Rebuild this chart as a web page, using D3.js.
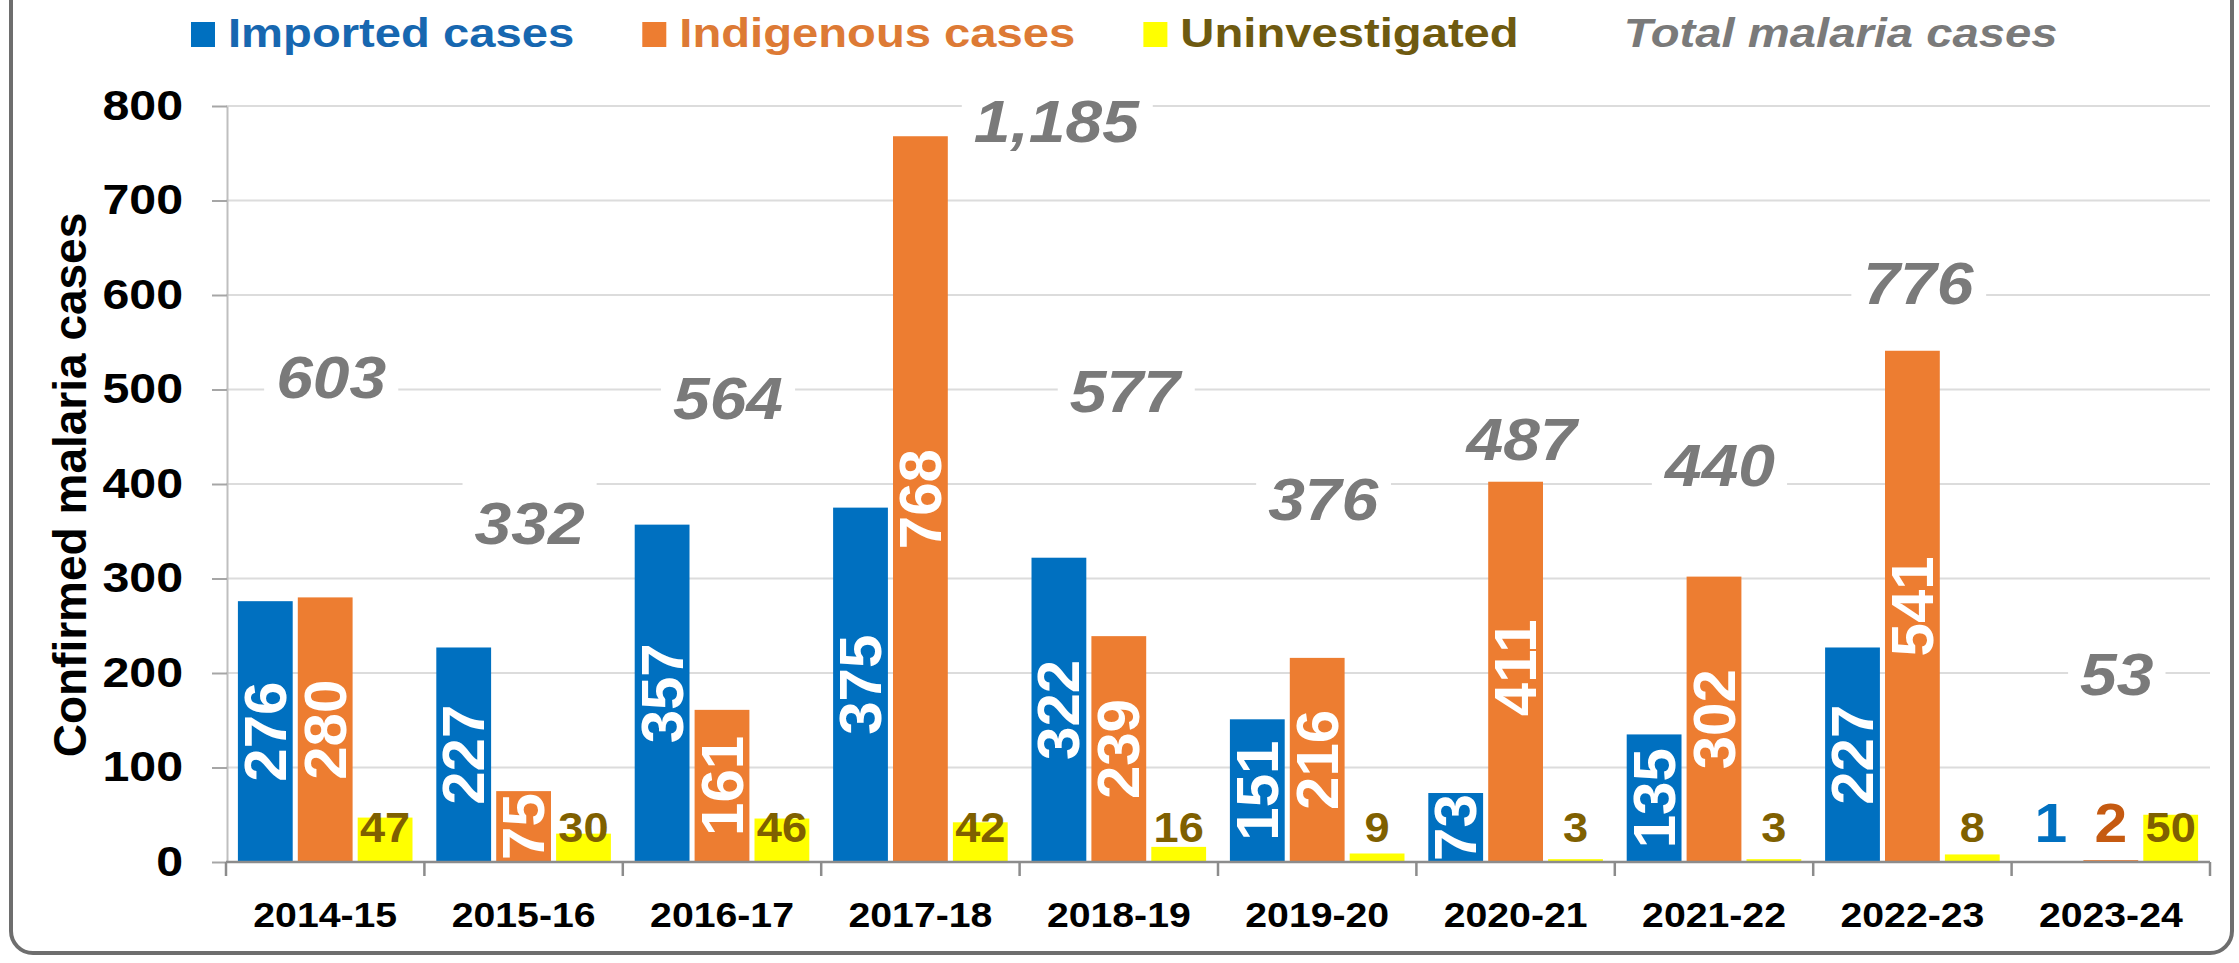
<!doctype html>
<html>
<head>
    <meta charset="UTF-8">
    <title>Confirmed malaria cases</title>
    <script src="https://cdn.jsdelivr.net/npm/d3@7"></script>
    <style>
        body { margin: 0; background: #fff; }
        svg text { font-family: "Liberation Sans", Arial, sans-serif; font-weight: bold; }
    </style>
</head>
<body>
<svg id="chart" width="2239" height="963"></svg>
<script>
    var years = ['2014-15', '2015-16', '2016-17', '2017-18', '2018-19', '2019-20', '2020-21', '2021-22', '2022-23', '2023-24'];
    var imported = [276, 227, 357, 375, 322, 151, 73, 135, 227, 1];
    var indigenous = [280, 75, 161, 768, 239, 216, 411, 302, 541, 2];
    var uninvestigated = [47, 30, 46, 42, 16, 9, 3, 3, 8, 50];
    var totals = [603, 332, 564, 1185, 577, 376, 487, 440, 776, 53];
    var seriesNames = ['Imported cases', 'Indigenous cases', 'Uninvestigated'];
    var totalName = 'Total malaria cases';
    var yTicks = [0, 100, 200, 300, 400, 500, 600, 700, 800];

    var barColors = ['#0070c0', '#ed7d31', '#ffff00'];
    var legendTextColors = ['#1767b0', '#dd7a35', '#6e5a10'];
    var smallLabelColors = ['#0070c0', '#c55a11', '#7f6000'];
    var totalColor = '#7a7a7a';

    // note: "top" is taken by window.top, so plot* names
    var plotLeft = 226, plotRight = 2210, plotTop = 106, plotBottom = 862;

    var svg = d3.select('#chart');

    // stretch a text along its own direction
    function fit(sel, k) {
        sel.each(function () {
            var w = this.getComputedTextLength();
            d3.select(this).attr('textLength', w * k).attr('lengthAdjust', 'spacingAndGlyphs');
        });
    }

    // frame
    svg.append('rect')
        .attr('x', 11).attr('y', -40)
        .attr('width', 2221).attr('height', 993)
        .attr('rx', 22)
        .attr('fill', '#fff')
        .attr('stroke', '#6e6e6e')
        .attr('stroke-width', 4);

    var x0 = d3.scaleBand().domain(years).range([plotLeft, plotRight]).paddingInner(0.12).paddingOuter(0.06);
    var x1 = d3.scaleBand().domain([0, 1, 2]).range([0, x0.bandwidth()]).paddingInner(0.085);
    var y = d3.scaleLinear().domain([0, 800]).range([plotBottom, plotTop]);
    // hidden secondary axis used by the total labels
    var y2 = d3.scaleLinear().domain([-295, 1105]).range([plotBottom, plotTop]);

    // gridlines
    svg.append('g').selectAll('line')
        .data(yTicks.filter(function (d) { return d > 0; }))
        .enter().append('line')
        .attr('x1', plotLeft).attr('x2', plotRight)
        .attr('y1', function (d) { return y(d); })
        .attr('y2', function (d) { return y(d); })
        .attr('stroke', '#dcdcdc')
        .attr('stroke-width', 2);

    // y axis
    var yAxis = svg.append('g')
        .attr('transform', 'translate(' + (plotLeft + 1) + ',0)')
        .call(d3.axisLeft(y).tickValues(yTicks).tickSizeInner(15).tickSizeOuter(0).tickPadding(29));
    yAxis.select('.domain').attr('stroke', '#bfbfbf').attr('stroke-width', 2);
    yAxis.selectAll('.tick line').attr('stroke', '#a6a6a6').attr('stroke-width', 2);
    yAxis.selectAll('.tick text')
        .attr('font-size', 42)
        .attr('fill', '#000')
        .attr('font-family', null);
    fit(yAxis.selectAll('.tick text'), 1.15);

    // y title
    svg.append('text')
        .attr('transform', 'translate(70,485) rotate(-90)')
        .attr('text-anchor', 'middle')
        .attr('dominant-baseline', 'central')
        .attr('font-size', 46)
        .attr('fill', '#000')
        .text('Confirmed malaria cases');

    var rows = years.map(function (yr, i) {
        return { year: yr, values: [imported[i], indigenous[i], uninvestigated[i]], total: totals[i] };
    });

    // bars
    var groups = svg.append('g').selectAll('g')
        .data(rows)
        .enter().append('g')
        .attr('transform', function (d) { return 'translate(' + x0(d.year) + ',0)'; });

    groups.selectAll('rect')
        .data(function (d) { return d.values.map(function (v, s) { return { s: s, v: v }; }); })
        .enter().append('rect')
        .attr('x', function (d) { return x1(d.s); })
        .attr('width', x1.bandwidth())
        .attr('y', function (d) { return y(d.v); })
        .attr('height', function (d) { return y(0) - y(d.v); })
        .attr('fill', function (d) { return barColors[d.s]; });

    // x axis
    svg.append('line')
        .attr('x1', plotLeft).attr('x2', plotRight)
        .attr('y1', y(0)).attr('y2', y(0))
        .attr('stroke', '#8c8c8c')
        .attr('stroke-width', 2.5);
    svg.append('g').selectAll('line')
        .data(d3.range(years.length + 1))
        .enter().append('line')
        .attr('x1', function (i) { return plotLeft + i * x0.step(); })
        .attr('x2', function (i) { return plotLeft + i * x0.step(); })
        .attr('y1', y(0)).attr('y2', y(0) + 14)
        .attr('stroke', '#8c8c8c')
        .attr('stroke-width', 2.5);

    var xAxis = svg.append('g')
        .attr('transform', 'translate(0,' + y(0) + ')')
        .call(d3.axisBottom(x0).tickSize(0).tickPadding(40));
    xAxis.select('.domain').remove();
    xAxis.selectAll('.tick text')
        .attr('font-size', 35)
        .attr('fill', '#000')
        .attr('font-family', null);
    fit(xAxis.selectAll('.tick text'), 1.12);

    // value labels
    groups.each(function (row) {
        var g = d3.select(this);
        row.values.forEach(function (v, s) {
            var cx = x1(s) + x1.bandwidth() / 2;
            if (s < 2 && v >= 10) {
                g.append('text')
                    .attr('transform', 'translate(' + cx + ',' + (y(v) + y(0)) / 2 + ') rotate(-90)')
                    .attr('text-anchor', 'middle')
                    .attr('dominant-baseline', 'central')
                    .attr('font-size', 60)
                    .attr('fill', '#fff')
                    .text(v);
            } else {
                var t = g.append('text')
                    .attr('x', cx)
                    .attr('y', y(0) - 20)
                    .attr('text-anchor', 'middle')
                    .attr('font-size', s < 2 ? 56 : 43)
                    .attr('fill', smallLabelColors[s])
                    .text(v);
                fit(t, 1.05);
            }
        });
    });

    // total labels
    var fmt = d3.format(',');
    groups.each(function (row) {
        var g = d3.select(this);
        var ty = Math.max(y2(row.total), plotTop + 15);
        var tallest = d3.max(row.values);
        var tx = x0.bandwidth() / 2 + 6, anchor = 'middle';
        if (ty + 22 > y(tallest)) {
            var s = row.values.indexOf(tallest);
            tx = x1(s) + x1.bandwidth() + 26;
            anchor = 'start';
        }
        var box = g.append('rect').attr('fill', '#fff');
        var t = g.append('text')
            .attr('x', tx)
            .attr('y', ty)
            .attr('text-anchor', anchor)
            .attr('dominant-baseline', 'central')
            .attr('font-size', 60)
            .attr('font-style', 'italic')
            .attr('fill', totalColor)
            .text(fmt(row.total));
        fit(t, 1.1);
        var bb = t.node().getBBox();
        box.attr('x', bb.x - 12).attr('width', bb.width + 24)
            .attr('y', ty - 42).attr('height', 84);
    });

    // legend
    var legendItems = seriesNames.concat([totalName]);
    var lx = 191;
    legendItems.forEach(function (name, i) {
        if (i < 3) {
            svg.append('rect')
                .attr('x', lx).attr('y', 22)
                .attr('width', 24).attr('height', 25)
                .attr('fill', barColors[i]);
        }
        var t = svg.append('text')
            .attr('x', lx + 37)
            .attr('y', 47)
            .attr('font-size', 40)
            .attr('fill', i < 3 ? legendTextColors[i] : totalColor)
            .attr('font-style', i < 3 ? null : 'italic')
            .text(name);
        fit(t, 1.18);
        lx += 37 + t.node().getBBox().width + 68;
    });
</script>
</body>
</html>
